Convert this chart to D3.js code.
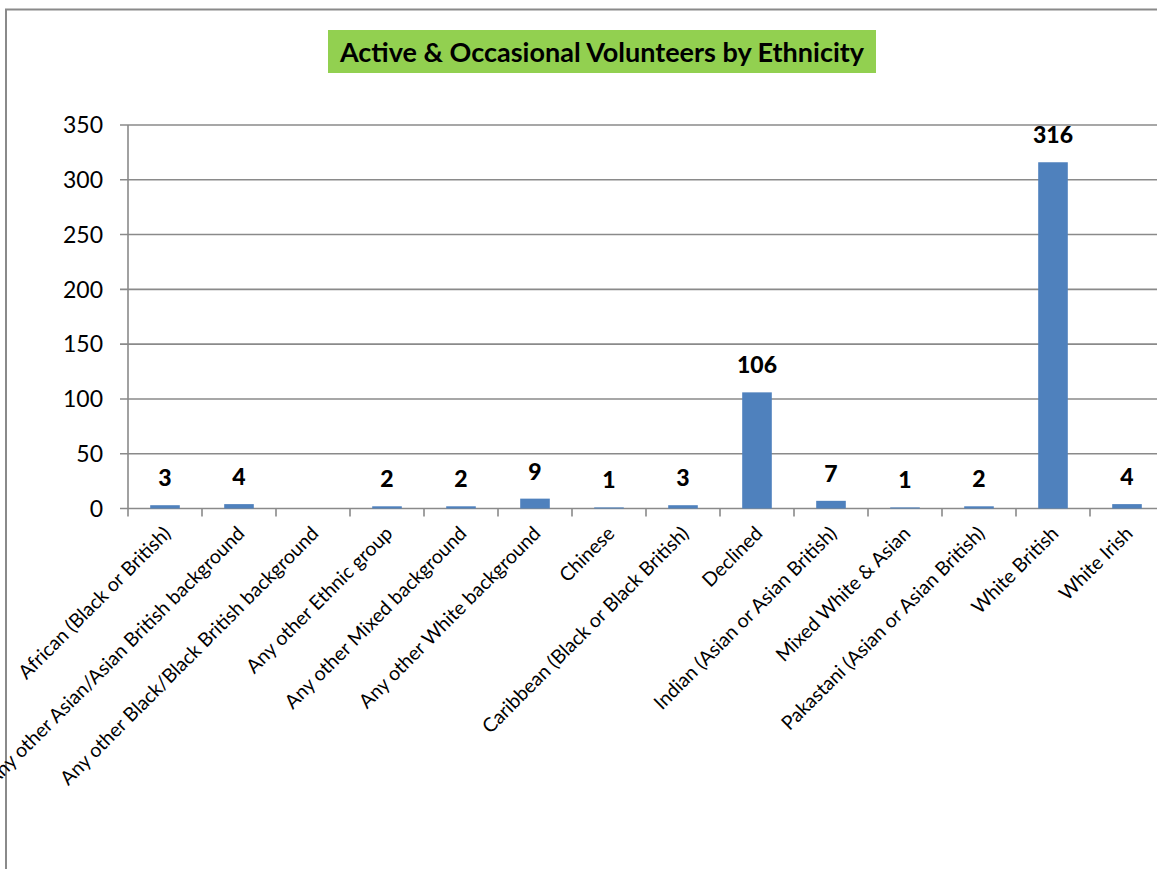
<!DOCTYPE html>
<html><head><meta charset="utf-8">
<script src="https://cdn.jsdelivr.net/npm/d3@7"></script>
<style>html,body{margin:0;padding:0;background:#fff;overflow:hidden}</style>
</head><body>
<svg id="c" width="1157" height="869"></svg>
<script>
const categories = ["African (Black or British)","Any other Asian/Asian British background","Any other Black/Black British background","Any other Ethnic group","Any other Mixed background","Any other White background","Chinese","Caribbean (Black or Black British)","Declined","Indian (Asian or Asian British)","Mixed White & Asian","Pakastani (Asian or Asian British)","White British","White Irish"];
const values = [3,4,null,2,2,9,1,3,106,7,1,2,316,4];
const yTicks = [0,50,100,150,200,250,300,350];
const title = "Active & Occasional Volunteers by Ethnicity";

const svg = d3.select("#c");
const FONT = "Lato, 'Open Sans', sans-serif";
const grey = "#8a8a8a";

// outer frame
svg.append("path").attr("d","M6,869 V9.5 H1157").attr("fill","none").attr("stroke",grey).attr("stroke-width",2);

const x = d3.scaleBand().domain(categories).range([128, 128+14*74]).paddingInner(0.6).paddingOuter(0.3);
const y = d3.scaleLinear().domain([0,350]).range([508.5,125]);

// gridlines
svg.append("g").selectAll("line").data(yTicks).join("line")
  .attr("x1",120).attr("x2",1157).attr("y1",d=>y(d)).attr("y2",d=>y(d))
  .attr("stroke",grey).attr("stroke-width",1.6);
// y axis line
svg.append("line").attr("x1",128).attr("x2",128).attr("y1",y(350)).attr("y2",y(0))
  .attr("stroke",grey).attr("stroke-width",1.6);
// y tick labels
svg.append("g").selectAll("text").data(yTicks).join("text")
  .attr("x",103).attr("y",d=>y(d)).attr("dy","0.36em").attr("text-anchor","end")
  .attr("font-family",FONT).attr("font-size",23).attr("fill","#000").text(d=>d);
// x ticks at category boundaries
const step = x.step();
svg.append("g").selectAll("line").data(d3.range(categories.length+1)).join("line")
  .attr("x1",i=>128+i*step).attr("x2",i=>128+i*step).attr("y1",y(0)).attr("y2",y(0)+8)
  .attr("stroke",grey).attr("stroke-width",1.6);

// bars
svg.append("g").selectAll("rect").data(categories.map((c,i)=>({c,v:values[i]})).filter(d=>d.v!=null)).join("rect")
  .attr("x",d=>x(d.c)).attr("width",x.bandwidth())
  .attr("y",d=>y(d.v)).attr("height",d=>y(0)-y(d.v))
  .attr("fill","#4f81bd");
// value labels
svg.append("g").selectAll("text").data(categories.map((c,i)=>({c,v:values[i]})).filter(d=>d.v!=null && d.v>0)).join("text")
  .attr("x",d=>x(d.c)+x.bandwidth()/2).attr("y",d=>y(d.v)-19).attr("text-anchor","middle")
  .attr("font-family",FONT).attr("font-weight","900").attr("font-size",23).attr("fill","#000").text(d=>d.v);

// category labels
svg.append("g").selectAll("text").data(categories).join("text")
  .attr("transform",d=>`translate(${x(d)+x.bandwidth()/2+2},530) rotate(-45)`)
  .attr("text-anchor","end").attr("dy","0.35em")
  .attr("font-family",FONT).attr("font-size",19.5).attr("fill","#000").text(d=>d);

// title
const tg = svg.append("g");
const tr = tg.append("rect").attr("fill","#92d050");
const tt = tg.append("text").attr("x",602).attr("y",62).attr("text-anchor","middle")
  .attr("font-family",FONT).attr("font-weight","bold").attr("font-size",27).attr("fill","#000").text(title);
tr.attr("x",328).attr("y",30).attr("width",548).attr("height",43);
</script>
</body></html>
